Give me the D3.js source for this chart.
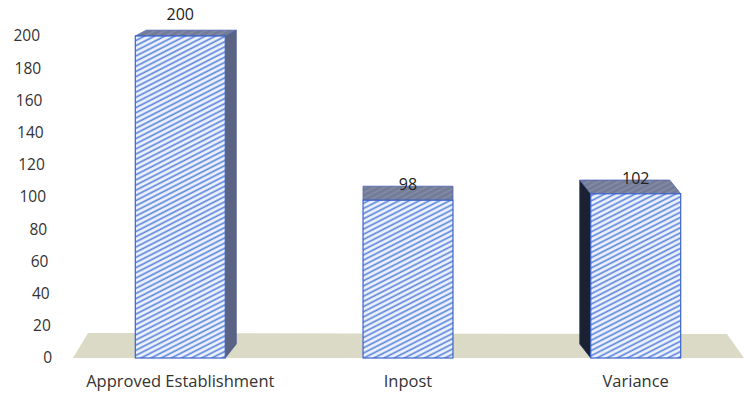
<!DOCTYPE html>
<html><head><meta charset="utf-8">
<script src="https://cdn.jsdelivr.net/npm/d3@7"></script>
<style>body{margin:0;background:#fff}svg{display:block}text{font-family:"Open Sans",sans-serif}</style>
</head><body>
<svg id="c" width="744" height="394"></svg>
<script>
const categories = ["Approved Establishment", "Inpost", "Variance"];
const values = [200, 98, 102];
const yTicks = [0, 20, 40, 60, 80, 100, 120, 140, 160, 180, 200];

const svg = d3.select("#c");
const y = d3.scaleLinear().domain([0, 200]).range([358, 36]);
const x = d3.scaleBand().domain(categories).range([67, 749]).paddingInner(0.605).paddingOuter(0.3);

const defs = svg.append("defs");
const pat = defs.append("pattern").attr("id", "hatch").attr("patternUnits", "userSpaceOnUse")
  .attr("width", 10).attr("height", 4.6).attr("patternTransform", "rotate(-27)");
pat.append("rect").attr("width", 10).attr("height", 4.6).attr("fill", "#eef3fd");
pat.append("line").attr("x1", 0).attr("x2", 10).attr("y1", 1.2).attr("y2", 1.2)
  .attr("stroke", "#5d86dc").attr("stroke-width", 1.7);
const patTop = defs.append("pattern").attr("id", "hatchTop").attr("patternUnits", "userSpaceOnUse")
  .attr("width", 10).attr("height", 4.6).attr("patternTransform", "rotate(-27)");
patTop.append("rect").attr("width", 10).attr("height", 4.6).attr("fill", "#737b96");
patTop.append("line").attr("x1", 0).attr("x2", 10).attr("y1", 1.2).attr("y2", 1.2)
  .attr("stroke", "#858ea8").attr("stroke-width", 1.4);

// floor
const y0 = y(0);
svg.append("path")
  .attr("d", `M73,${y0} L88,${y0 - 25} L727,${y0 - 24} L744,${y0} Z`)
  .attr("fill", "#dbdac7");

// y axis
const axis = svg.append("g").attr("transform", "translate(40,0)")
  .call(d3.axisLeft(y).tickValues(yTicks).tickSize(0).tickPadding(0));
axis.select(".domain").remove();
axis.selectAll("text")
  .attr("x", d => (200 - d) * 0.06)
  .attr("fill", "#333").style("font-size", "15.5px").style("font-family", '"Open Sans",sans-serif');

const center = 408;
const bars = svg.append("g");
categories.forEach((c, i) => {
  const v = values[i];
  const x0 = x(c), x1 = x(c) + x.bandwidth();
  const yt = y(v);
  const cx = x0 + x.bandwidth() / 2;
  const dx = Math.round((cx - center) * -0.048);
  const dyTop = -Math.min(15, 5 + 0.05 * (yt - 20));
  const dyBot = -14;
  const g = bars.append("g");
  if (dx > 0) {
    g.append("path").attr("d", `M${x1},${yt} L${x1 + dx},${yt + dyTop} L${x1 + dx},${y0 + dyBot} L${x1},${y0} Z`)
      .attr("fill", "#5b6384").attr("stroke", "#4a5a9a").attr("stroke-width", 0.8);
  } else if (dx < 0) {
    g.append("path").attr("d", `M${x0},${yt} L${x0 + dx},${yt + dyTop} L${x0 + dx},${y0 + dyBot} L${x0},${y0} Z`)
      .attr("fill", "#1b2131").attr("stroke", "#2a3560").attr("stroke-width", 0.8);
  }
  g.append("path").attr("d", `M${x0},${yt} L${x0 + dx},${yt + dyTop} L${x1 + dx},${yt + dyTop} L${x1},${yt} Z`)
    .attr("fill", "url(#hatchTop)").attr("stroke", "#4a62b0").attr("stroke-width", 0.8);
  g.append("rect").attr("x", x0).attr("y", yt).attr("width", x.bandwidth()).attr("height", y0 - yt)
    .attr("fill", "url(#hatch)").attr("stroke", "#3d63c8").attr("stroke-width", 1.2);
  g.append("text").attr("x", cx).attr("y", yt - 16 + (yt - 36) * 0.037).attr("text-anchor", "middle")
    .attr("fill", "#222").style("font-size", "16px").text(v);
  svg.append("text").attr("x", cx).attr("y", 387).attr("text-anchor", "middle")
    .attr("fill", "#333").style("font-size", "16.5px").text(c);
});
</script>
</body></html>
